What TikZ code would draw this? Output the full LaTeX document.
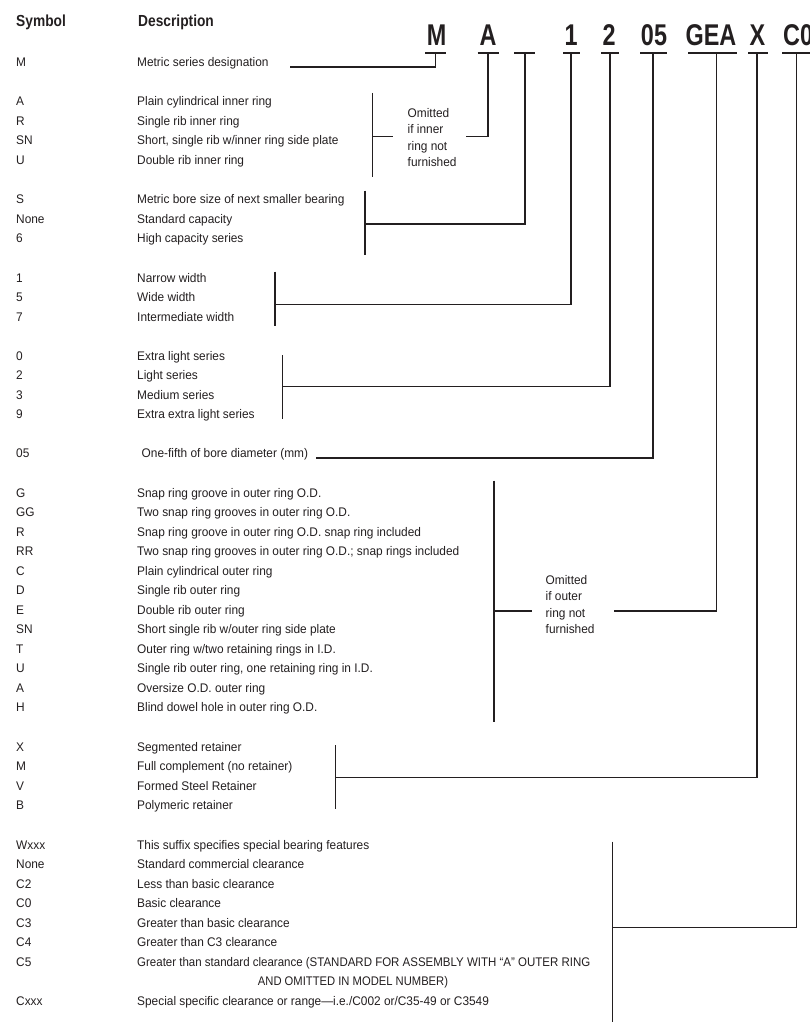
\documentclass[tikz,border=0pt]{standalone}
\usepackage{graphicx}
\usepackage{fontspec}
\setmainfont{Liberation Sans}[FakeStretch=0.95]
\newfontfamily\hdfont{Liberation Sans}[FakeStretch=0.86]
\newfontfamily\codefont{Liberation Sans}[FakeStretch=0.78]
\definecolor{ink}{HTML}{231F20}
\begin{document}
\begin{tikzpicture}[x=1pt,y=-1pt,
  txt/.style={anchor=base west,inner sep=0pt,text=ink,font=\fontsize{12.5}{15}\selectfont},
  head/.style={anchor=base west,inner sep=0pt,text=ink,font=\hdfont\bfseries\fontsize{16}{19}\selectfont},
  code/.style={anchor=base,inner sep=0pt,text=ink,font=\codefont\bfseries\fontsize{30}{34}\selectfont},
  note/.style={anchor=west,inner sep=0pt,text=ink,align=left,font=\fontsize{12.5}{16.3}\selectfont},
  ln/.style={draw=ink,line width=1.2pt}]
\useasboundingbox (0,0) rectangle (810,1024);

% headers
\node[head] (hsym) at (16,27) {Symbol};
\node[head] (hdesc) at (138,27) {Description};

% code letters
\node[code] (cM) at (436.5,45.5) {M};
\node[code] (cA) at (488,45.5) {A};
\node[code] (c1) at (571,45.5) {1};
\node[code] (c2) at (609,45.5) {2};
\node[code] (c05) at (654,45.5) {05};
\node[code] (cGEA) at (711,45.5) {GEA};
\node[code] (cX) at (757.5,45.5) {X};
\node[code,anchor=base west] (cC0) at (783,45.5) {C0};

% rows
\node[txt] (sM) at (16,66.5) {M};
\node[txt] (dM) at (137,66.5) {Metric series designation};

\node[txt] (sA) at (16,106) {A};
\node[txt] (dA) at (137,106) {Plain cylindrical inner ring};
\node[txt] (sR) at (16,125.5) {R};
\node[txt] (dR) at (137,125.5) {Single rib inner ring};
\node[txt] (sSN) at (16,145) {SN};
\node[txt] (dSN) at (137,145) {Short, single rib w/inner ring side plate};
\node[txt] (sU) at (16,164.5) {U};
\node[txt] (dU) at (137,164.5) {Double rib inner ring};

\node[txt] (sS) at (16,204) {S};
\node[txt] (dS) at (137,204) {Metric bore size of next smaller bearing};
\node[txt] (sNone) at (16,223.5) {None};
\node[txt] (dNone) at (137,223.5) {Standard capacity};
\node[txt] (s6) at (16,243) {6};
\node[txt] (d6) at (137,243) {High capacity series};

\node[txt] (s1) at (16,282) {1};
\node[txt] (d1) at (137,282) {Narrow width};
\node[txt] (s5) at (16,301.5) {5};
\node[txt] (d5) at (137,301.5) {Wide width};
\node[txt] (s7) at (16,321) {7};
\node[txt] (d7) at (137,321) {Intermediate width};

\node[txt] (s0) at (16,360) {0};
\node[txt] (d0) at (137,360) {Extra light series};
\node[txt] (s2) at (16,379.5) {2};
\node[txt] (d2) at (137,379.5) {Light series};
\node[txt] (s3) at (16,399) {3};
\node[txt] (d3) at (137,399) {Medium series};
\node[txt] (s9) at (16,418.5) {9};
\node[txt] (d9) at (137,418.5) {Extra extra light series};

\node[txt] (s05) at (16,457.5) {05};
\node[txt] (d05) at (141.5,457.5) {One-fifth of bore diameter (mm)};

\node[txt] (sG) at (16,497) {G};
\node[txt] (dG) at (137,497) {Snap ring groove in outer ring O.D.};
\node[txt] (sGG) at (16,516.5) {GG};
\node[txt] (dGG) at (137,516.5) {Two snap ring grooves in outer ring O.D.};
\node[txt] (sR2) at (16,536) {R};
\node[txt] (dR2) at (137,536) {Snap ring groove in outer ring O.D. snap ring included};
\node[txt] (sRR) at (16,555.5) {RR};
\node[txt] (dRR) at (137,555.5) {Two snap ring grooves in outer ring O.D.; snap rings included};
\node[txt] (sC) at (16,575) {C};
\node[txt] (dC) at (137,575) {Plain cylindrical outer ring};
\node[txt] (sD) at (16,594.5) {D};
\node[txt] (dD) at (137,594.5) {Single rib outer ring};
\node[txt] (sE) at (16,614) {E};
\node[txt] (dE) at (137,614) {Double rib outer ring};
\node[txt] (sSN2) at (16,633.5) {SN};
\node[txt] (dSN2) at (137,633.5) {Short single rib w/outer ring side plate};
\node[txt] (sT) at (16,653) {T};
\node[txt] (dT) at (137,653) {Outer ring w/two retaining rings in I.D.};
\node[txt] (sU2) at (16,672.5) {U};
\node[txt] (dU2) at (137,672.5) {Single rib outer ring, one retaining ring in I.D.};
\node[txt] (sA2) at (16,692) {A};
\node[txt] (dA2) at (137,692) {Oversize O.D. outer ring};
\node[txt] (sH) at (16,711.5) {H};
\node[txt] (dH) at (137,711.5) {Blind dowel hole in outer ring O.D.};

\node[txt] (sX) at (16,751) {X};
\node[txt] (dX) at (137,751) {Segmented retainer};
\node[txt] (sM2) at (16,770.5) {M};
\node[txt] (dM2) at (137,770.5) {Full complement (no retainer)};
\node[txt] (sV) at (16,790) {V};
\node[txt] (dV) at (137,790) {Formed Steel Retainer};
\node[txt] (sB) at (16,809.5) {B};
\node[txt] (dB) at (137,809.5) {Polymeric retainer};

\node[txt] (sW) at (16,849) {Wxxx};
\node[txt] (dW) at (137,849) {This suffix specifies special bearing features};
\node[txt] (sNone2) at (16,868.5) {None};
\node[txt] (dNone2) at (137,868.5) {Standard commercial clearance};
\node[txt] (sC2) at (16,888) {C2};
\node[txt] (dC2) at (137,888) {Less than basic clearance};
\node[txt] (sC0) at (16,907.5) {C0};
\node[txt] (dC0) at (137,907.5) {Basic clearance};
\node[txt] (sC3) at (16,927) {C3};
\node[txt] (dC3) at (137,927) {Greater than basic clearance};
\node[txt] (sC4) at (16,946.5) {C4};
\node[txt] (dC4) at (137,946.5) {Greater than C3 clearance};
\node[txt] (sC5) at (16,966) {C5};
\node[txt] (dC5) at (137,966) {\scalebox{0.968}[1]{Greater than standard clearance (STANDARD FOR ASSEMBLY WITH ``A'' OUTER RING}};
\node[txt,anchor=base] (dC5b) at (353,985.5) {\scalebox{0.945}[1]{AND OMITTED IN MODEL NUMBER)}};
\node[txt] (sCx) at (16,1005) {Cxxx};
\node[txt] (dCx) at (137,1005) {Special specific clearance or range---i.e./C002 or/C35-49 or C3549};

% notes
\node[note] (nIn) at (407.5,137.5) {Omitted\\if inner\\ring not\\furnished};
\node[note] (nOut) at (545.5,604.5) {Omitted\\if outer\\ring not\\furnished};

% underline coordinates
\coordinate (uMa) at (425,53);   \coordinate (uMb) at (446,53);
\coordinate (uAa) at (477.5,53); \coordinate (uAb) at (499,53);
\coordinate (uBa) at (514,53);   \coordinate (uBb) at (535,53);
\coordinate (u1a) at (563,53);   \coordinate (u1b) at (580,53);
\coordinate (u2a) at (601,53);   \coordinate (u2b) at (619,53);
\coordinate (u5a) at (640,53);   \coordinate (u5b) at (667,53);
\coordinate (uGa) at (688,53);   \coordinate (uGb) at (737,53);
\coordinate (uXa) at (748,53);   \coordinate (uXb) at (768,53);
\coordinate (uCa) at (782,53);   \coordinate (uCb) at (810,53);
\foreach \k in {M,A,B,1,2,5,G,X,C}{\draw[ln] (u\k a) -- (u\k b);}

% connector feet
\coordinate (tM) at (435.5,53);  \coordinate (eM) at (290,67);
\coordinate (tA) at (488,53);    \coordinate (eA) at (466,136.7);
\coordinate (tB) at (525,53);    \coordinate (eB) at (365,224);
\coordinate (t1) at (571,53);    \coordinate (e1) at (275,304.3);
\coordinate (t2) at (610,53);    \coordinate (e2) at (282.3,386.7);
\coordinate (t5) at (653,53);    \coordinate (e5) at (316,458);
\coordinate (tG) at (716.5,53);  \coordinate (eG) at (614.3,611);
\coordinate (tX) at (757,53);    \coordinate (eX) at (335.7,777.7);
\coordinate (tC) at (796.5,53);  \coordinate (eC) at (612.7,927.7);
\foreach \k in {M,A,B,1,2,5,G,X,C}{\draw[ln] (t\k) |- (e\k);}

% brackets
\coordinate (bIa) at (372.7,93);    \coordinate (bIb) at (372.7,177);
\coordinate (bIt) at (392.7,136.7); 
\draw[ln] (bIa) -- (bIb);
\draw[ln] (bIt) -- (bIt -| bIa);
\coordinate (bSa) at (365,190.7);   \coordinate (bSb) at (365,255);
\draw[ln] (bSa) -- (bSb);
\coordinate (b1a) at (275,271.7);   \coordinate (b1b) at (275,325.7);
\draw[ln] (b1a) -- (b1b);
\coordinate (b0a) at (282.3,355);   \coordinate (b0b) at (282.3,419.3);
\draw[ln] (b0a) -- (b0b);
\coordinate (bOa) at (494,480.7);   \coordinate (bOb) at (494,721.7);
\coordinate (bOt) at (531.7,611);
\draw[ln] (bOa) -- (bOb);
\draw[ln] (bOt) -- (bOt -| bOa);
\coordinate (bXa) at (335.7,745);   \coordinate (bXb) at (335.7,809.3);
\draw[ln] (bXa) -- (bXb);
\coordinate (bWa) at (612.7,841.7); \coordinate (bWb) at (612.7,1021.7);
\draw[ln] (bWa) -- (bWb);
\end{tikzpicture}
\end{document}
